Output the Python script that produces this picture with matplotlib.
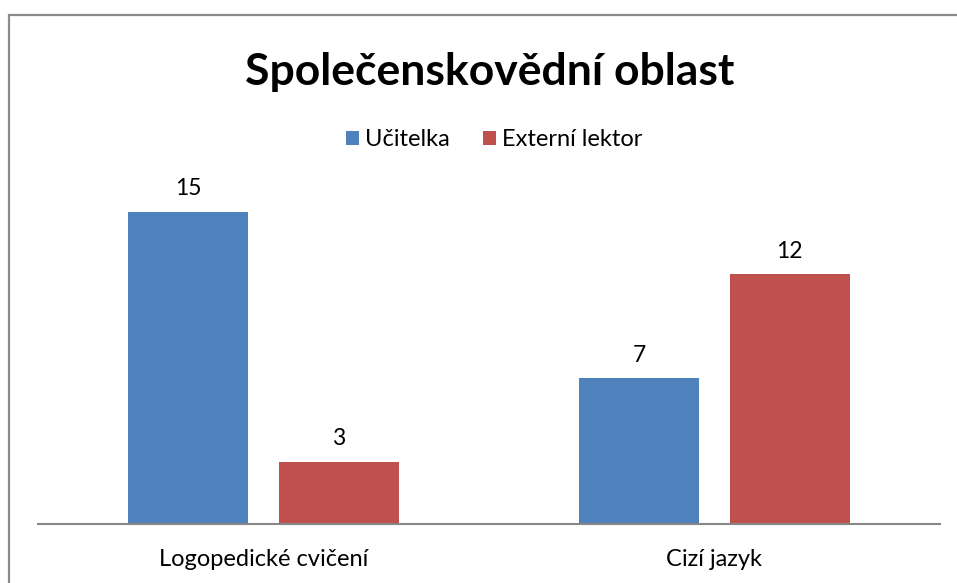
import numpy as np
import matplotlib.pyplot as plt
from matplotlib.patches import Rectangle

categories = ['Logopedické cvičení', 'Cizí jazyk']
series_names = ['Učitelka', 'Externí lektor']
ucitelka = [15, 7]
externi = [3, 12]
colors = ['#4f81bd', '#c0504d']

W, H = 957, 583
fig = plt.figure(figsize=(W / 100, H / 100), dpi=100)
plt.rcParams['font.family'] = ['Lato', 'DejaVu Sans']

# outer chart border (left and top visible only)
fig.patches.append(Rectangle((9 / W, -0.1), 1.2, (H - 15) / H + 0.1,
                             transform=fig.transFigure, fill=False,
                             edgecolor='#8c8c8c', linewidth=1.6))

ax_left, ax_right = 38, 940
ax_bottom, ax_top = 524, 191
ax = fig.add_axes([ax_left / W, (H - ax_bottom) / H,
                   (ax_right - ax_left) / W, (ax_bottom - ax_top) / H])

x = np.arange(len(categories))
bw = 0.266
off = 0.167
b1 = ax.bar(x - off, ucitelka, bw, color=colors[0], label=series_names[0])
b2 = ax.bar(x + off, externi, bw, color=colors[1], label=series_names[1])

for bars in (b1, b2):
    for r in bars:
        ax.text(r.get_x() + r.get_width() / 2, r.get_height() + 0.6,
                str(int(r.get_height())), ha='center', va='bottom',
                fontsize=16.5, color='black')

ax.set_xlim(-0.5, 1.5)
ax.set_ylim(0, 16)
for s in ['top', 'right', 'left']:
    ax.spines[s].set_visible(False)
ax.spines['bottom'].set_color('#868686')
ax.spines['bottom'].set_linewidth(1.5)
ax.set_yticks([])
ax.set_xticks(x)
ax.set_xticklabels(categories, fontsize=17)
ax.tick_params(axis='x', length=0, pad=18)

fig.text(490 / W, (H - 72) / H, 'Společenskovědní oblast', ha='center',
         va='center', fontsize=32, fontweight='bold')

fig.legend(loc='center', bbox_to_anchor=(494 / W, (H - 140) / H), ncol=2,
           frameon=False, fontsize=17, handlelength=0.55, handleheight=0.55,
           handletextpad=0.25, columnspacing=1.4)

fig.savefig('out.png', dpi=100)
